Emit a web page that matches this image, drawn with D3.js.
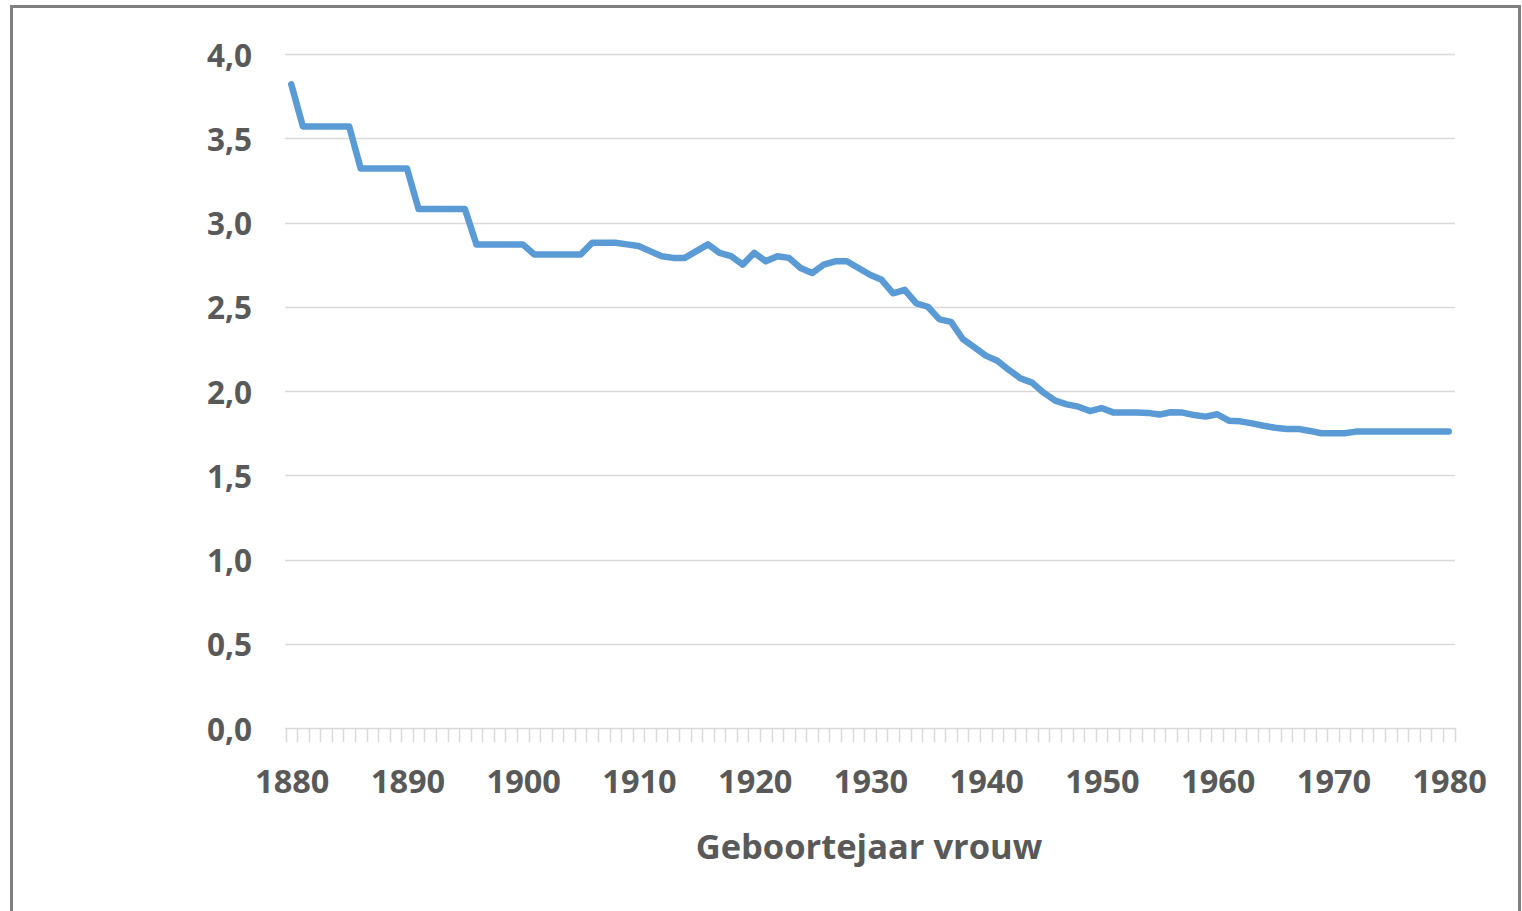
<!DOCTYPE html>
<html>
<head>
<meta charset="utf-8">
<script src="https://cdn.jsdelivr.net/npm/d3@7"></script>
<style>
  html, body { margin: 0; padding: 0; background: #fff; }
  svg { display: block; }
</style>
</head>
<body>
<svg id="chart" width="1522" height="911"></svg>
<script>
const years = d3.range(1880, 1981);
const values = [
  3.82, 3.57, 3.57, 3.57, 3.57, 3.57, 3.32, 3.32, 3.32, 3.32,
  3.32, 3.08, 3.08, 3.08, 3.08, 3.08, 2.87, 2.87, 2.87, 2.87,
  2.87, 2.81, 2.81, 2.81, 2.81, 2.81, 2.88, 2.88, 2.88, 2.87,
  2.86, 2.83, 2.80, 2.79, 2.79, 2.83, 2.87, 2.82, 2.80, 2.75,
  2.82, 2.77, 2.80, 2.79, 2.73, 2.70, 2.75, 2.77, 2.77, 2.73,
  2.69, 2.66, 2.58, 2.60, 2.52, 2.50, 2.425, 2.41, 2.31, 2.26,
  2.21, 2.18, 2.125, 2.075, 2.05, 1.99, 1.943, 1.921, 1.907, 1.881,
  1.899, 1.873, 1.873, 1.873, 1.87, 1.86, 1.874, 1.872, 1.857, 1.848,
  1.862, 1.824, 1.82, 1.808, 1.794, 1.782, 1.775, 1.775, 1.763, 1.749,
  1.749, 1.749, 1.759, 1.759, 1.759, 1.759, 1.759, 1.759, 1.759, 1.759,
  1.759
];
const yTicks = [0, 0.5, 1.0, 1.5, 2.0, 2.5, 3.0, 3.5, 4.0];
const xLabelYears = [1880, 1890, 1900, 1910, 1920, 1930, 1940, 1950, 1960, 1970, 1980];
const xTitle = "Geboortejaar vrouw";

const svg = d3.select("#chart");
const fmt = v => d3.format(".1f")(v).replace(".", ",");

// outer border
svg.append("rect")
  .attr("x", 11.5).attr("y", 6.5)
  .attr("width", 1508).attr("height", 920)
  .attr("fill", "#fff")
  .attr("stroke", "#808080").attr("stroke-width", 3);

const x = d3.scaleBand().domain(years).range([285.5, 1454.5]).paddingInner(0).paddingOuter(0);
const y = d3.scaleLinear().domain([0, 4]).range([728, 54]);

// gridlines
svg.append("g").selectAll("line")
  .data(yTicks.filter(d => d > 0))
  .join("line")
  .attr("x1", 285).attr("x2", 1455)
  .attr("y1", d => Math.round(y(d)) + 0.5).attr("y2", d => Math.round(y(d)) + 0.5)
  .attr("stroke", "#d9d9d9").attr("stroke-width", 1.5);

// y labels
svg.append("g").selectAll("text")
  .data(yTicks)
  .join("text")
  .attr("x", 252).attr("y", d => y(d))
  .attr("text-anchor", "end").attr("dominant-baseline", "central")
  .attr("font-family", "'Open Sans', sans-serif").attr("font-weight", 700)
  .attr("font-size", 31.5).attr("fill", "#595959")
  .text(fmt);

// x axis baseline and boundary ticks
const axisG = svg.append("g");
axisG.append("line")
  .attr("x1", 285).attr("x2", 1455)
  .attr("y1", 728.5).attr("y2", 728.5)
  .attr("stroke", "#d9d9d9").attr("stroke-width", 1.5);
const boundaries = years.map(d => x(d)).concat([x(years[years.length - 1]) + x.bandwidth()]);
axisG.selectAll("line.tick")
  .data(boundaries)
  .join("line").attr("class", "tick")
  .attr("x1", d => Math.round(d) + 0.5).attr("x2", d => Math.round(d) + 0.5)
  .attr("y1", 728).attr("y2", 742)
  .attr("stroke", "#d9d9d9").attr("stroke-width", 1.5);

// x labels
svg.append("g").selectAll("text")
  .data(xLabelYears)
  .join("text")
  .attr("x", d => x(d) + x.bandwidth() / 2 + 1).attr("y", 780)
  .attr("text-anchor", "middle").attr("dominant-baseline", "central")
  .attr("font-family", "'Open Sans', sans-serif").attr("font-weight", 700)
  .attr("font-size", 32.5).attr("fill", "#595959")
  .text(d => d);

// axis title
svg.append("text")
  .attr("x", 869).attr("y", 845)
  .attr("text-anchor", "middle").attr("dominant-baseline", "central")
  .attr("font-family", "'Open Sans', sans-serif").attr("font-weight", 700)
  .attr("font-size", 34.5).attr("fill", "#595959")
  .text(xTitle);

// line
const line = d3.line()
  .x((d, i) => x(years[i]) + x.bandwidth() / 2)
  .y(d => y(d));
svg.append("path")
  .datum(values)
  .attr("d", line)
  .attr("fill", "none")
  .attr("stroke", "#5b9bd5")
  .attr("stroke-width", 6.5)
  .attr("stroke-linejoin", "round")
  .attr("stroke-linecap", "round");
</script>
</body>
</html>
